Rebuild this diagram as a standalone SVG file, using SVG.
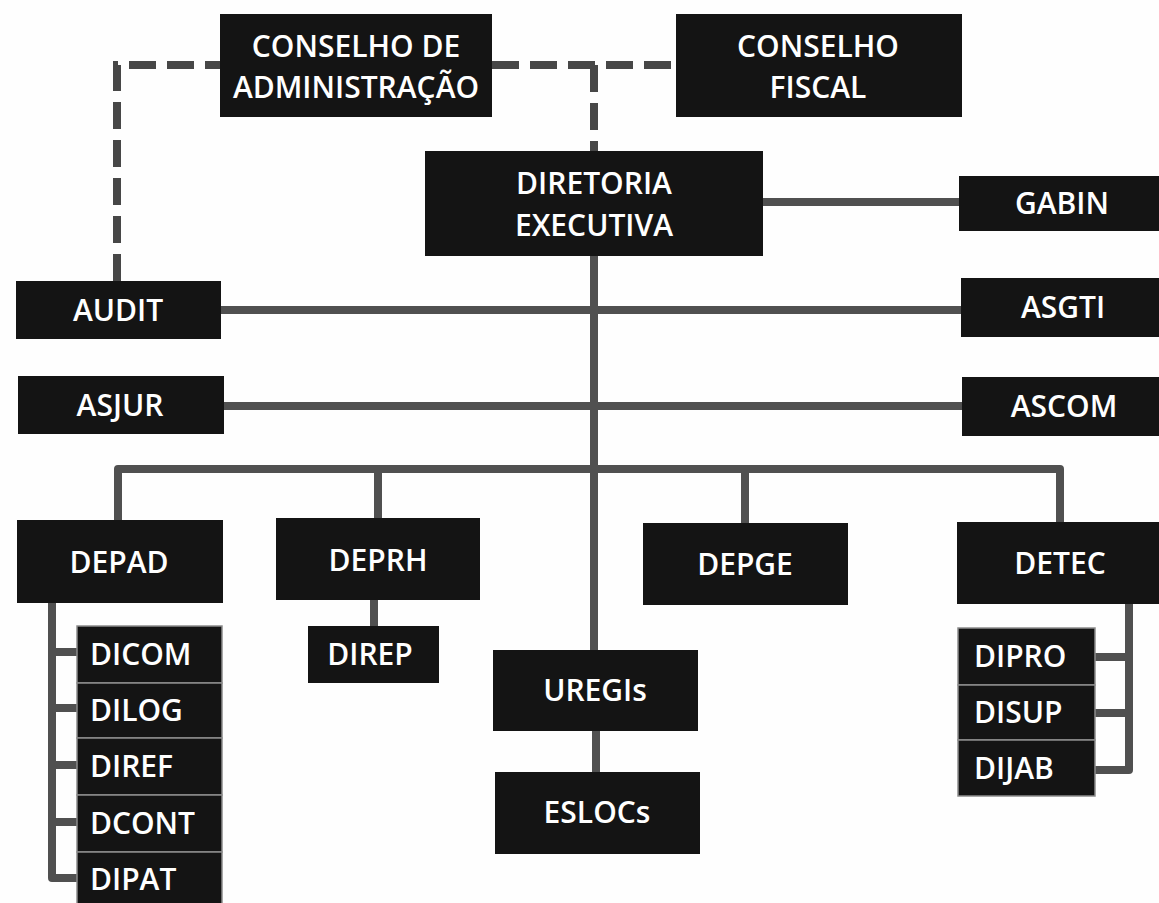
<svg xmlns="http://www.w3.org/2000/svg" width="1159" height="903" viewBox="0 0 1159 903">
<style>
.box{fill:#141414}
.sub{fill:#141414;stroke:#8c8c8c;stroke-width:1.5}
.t{fill:#ffffff;font-family:"Open Sans","Liberation Sans",sans-serif;font-weight:600;font-size:30px;text-anchor:middle}
.tl{fill:#ffffff;font-family:"Open Sans","Liberation Sans",sans-serif;font-weight:600;font-size:30px;text-anchor:start}
.ln{fill:none;stroke:#505050;stroke-width:8;stroke-linejoin:round}
.ds{fill:none;stroke:#474747;stroke-width:8;stroke-dasharray:27 11}
</style>
<rect x="0" y="0" width="1159" height="903" fill="#fefefe"/>
<g id="connectors">
<path class="ds" d="M117,281 V65 H220"/>
<path class="ds" d="M492,65 H676"/>
<path class="ds" d="M594,65 V151"/>
<path class="ln" d="M594,256 V650"/>
<path class="ln" d="M763,202 H959"/>
<path class="ln" d="M221,310 H961"/>
<path class="ln" d="M224,406 H962"/>
<path class="ln" d="M118,520 V469 H1060 V522"/>
<path class="ln" d="M378,469 V518"/>
<path class="ln" d="M745,469 V523"/>
<path class="ln" d="M374,600 V626"/>
<path class="ln" d="M596,731 V772"/>
<path class="ln" d="M52,603 V878 H77"/>
<path class="ln" d="M52,652 H77 M52,708 H77 M52,765 H77 M52,822 H77"/>
<path class="ln" d="M1129,604 V770 H1095"/>
<path class="ln" d="M1095,657 H1129 M1095,713 H1129"/>
</g>
<g id="conselho-administracao"><rect class="box" x="220" y="14" width="272" height="103"/><text class="t" x="356" y="57">CONSELHO DE</text><text class="t" x="356" y="98">ADMINISTRAÇÃO</text></g>
<g id="conselho-fiscal"><rect class="box" x="676" y="14" width="286" height="103"/><text class="t" x="818" y="57">CONSELHO</text><text class="t" x="818" y="98">FISCAL</text></g>
<g id="diretoria-executiva"><rect class="box" x="425" y="151" width="338" height="105"/><text class="t" x="594" y="194">DIRETORIA</text><text class="t" x="594" y="236">EXECUTIVA</text></g>
<g id="gabin"><rect class="box" x="959" y="176" width="206" height="55"/><text class="t" x="1062" y="214">GABIN</text></g>
<g id="audit"><rect class="box" x="16" y="281" width="205" height="58"/><text class="t" x="118" y="321">AUDIT</text></g>
<g id="asgti"><rect class="box" x="961" y="278" width="204" height="59"/><text class="t" x="1063" y="318">ASGTI</text></g>
<g id="asjur"><rect class="box" x="18" y="376" width="206" height="58"/><text class="t" x="120" y="416">ASJUR</text></g>
<g id="ascom"><rect class="box" x="962" y="377" width="203" height="59"/><text class="t" x="1064" y="417">ASCOM</text></g>
<g id="depad"><rect class="box" x="17" y="520" width="206" height="83"/><text class="t" x="119" y="573">DEPAD</text></g>
<g id="deprh"><rect class="box" x="276" y="518" width="204" height="82"/><text class="t" x="378" y="571">DEPRH</text></g>
<g id="depge"><rect class="box" x="643" y="523" width="205" height="82"/><text class="t" x="745" y="575">DEPGE</text></g>
<g id="detec"><rect class="box" x="957" y="522" width="208" height="82"/><text class="t" x="1060" y="574">DETEC</text></g>
<g id="direp"><rect class="box" x="308" y="626" width="131" height="57"/><text class="t" x="370" y="665">DIREP</text></g>
<g id="dicom"><rect class="sub" x="77" y="626" width="145" height="57"/><text class="tl" x="90" y="665">DICOM</text></g>
<g id="dilog"><rect class="sub" x="77" y="683" width="145" height="55"/><text class="tl" x="90" y="721">DILOG</text></g>
<g id="diref"><rect class="sub" x="77" y="738" width="145" height="57"/><text class="tl" x="90" y="777">DIREF</text></g>
<g id="dcont"><rect class="sub" x="77" y="795" width="145" height="57"/><text class="tl" x="90" y="834">DCONT</text></g>
<g id="dipat"><rect class="sub" x="77" y="852" width="145" height="60"/><text class="tl" x="90" y="890">DIPAT</text></g>
<g id="uregis"><rect class="box" x="493" y="650" width="205" height="81"/><text class="t" x="595" y="701">UREGIs</text></g>
<g id="eslocs"><rect class="box" x="495" y="772" width="205" height="82"/><text class="t" x="597" y="823">ESLOCs</text></g>
<g id="dipro"><rect class="sub" x="958" y="628" width="137" height="57"/><text class="tl" x="974" y="667">DIPRO</text></g>
<g id="disup"><rect class="sub" x="958" y="685" width="137" height="55"/><text class="tl" x="974" y="723">DISUP</text></g>
<g id="dijab"><rect class="sub" x="958" y="740" width="137" height="56"/><text class="tl" x="974" y="779">DIJAB</text></g>
</svg>
